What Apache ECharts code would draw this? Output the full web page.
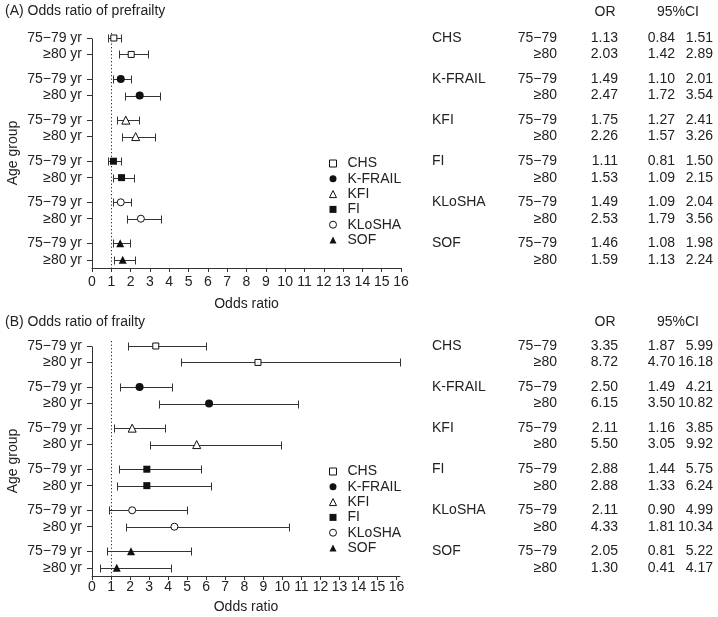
<!DOCTYPE html>
<html>
<head>
<meta charset="utf-8">
<script src="https://cdn.jsdelivr.net/npm/echarts@6/dist/echarts.min.js"></script>
<style>
html,body{margin:0;padding:0;background:#fff;}
#chart{width:718px;height:617px;}
</style>
</head>
<body>
<div id="chart"></div>
<script>
// ---------- data ----------
const indices = ['CHS', 'K-FRAIL', 'KFI', 'FI', 'KLoSHA', 'SOF'];
const ageAxisLabels = ['75\u221279 yr', '\u226580 yr'];
const ageTableLabels = ['75\u221279', '\u226580'];
const xTicks = [0,1,2,3,4,5,6,7,8,9,10,11,12,13,14,15,16];
const refOR = 1;

// (A) prefrailty: [75-79, >=80] for each index
const preOR = [[1.13, 2.03], [1.49, 2.47], [1.75, 2.26], [1.11, 1.53], [1.49, 2.53], [1.46, 1.59]];
const preLo = [[0.84, 1.42], [1.10, 1.72], [1.27, 1.57], [0.81, 1.09], [1.09, 1.79], [1.08, 1.13]];
const preHi = [[1.51, 2.89], [2.01, 3.54], [2.41, 3.26], [1.50, 2.15], [2.04, 3.56], [1.98, 2.24]];

// (B) frailty
const frOR = [[3.35, 8.72], [2.50, 6.15], [2.11, 5.50], [2.88, 2.88], [2.11, 4.33], [2.05, 1.30]];
const frLo = [[1.87, 4.70], [1.49, 3.50], [1.16, 3.05], [1.44, 1.33], [0.90, 1.81], [0.81, 0.41]];
const frHi = [[5.99, 16.18], [4.21, 10.82], [3.85, 9.92], [5.75, 6.24], [4.99, 10.34], [5.22, 4.17]];

// ---------- styles ----------
const symbols = ['rect', 'circle', 'triangle', 'rect', 'circle', 'triangle'];
const hollow = [true, false, true, false, true, false];
const symbolSizes = [6, 8, 8, 7, 7, 8];
const FONT = 'Liberation Sans, Arial, Helvetica, sans-serif';
const TXT = '#222';
const MARK = '#111';

function rowPos(g, a) { return g * 2.5 + a; }
const rowPositions = [];
for (let g = 0; g < indices.length; g++) for (let a = 0; a < 2; a++) rowPositions.push(rowPos(g, a));
function labelForPos(v) {
  for (let g = 0; g < indices.length; g++) for (let a = 0; a < 2; a++)
    if (Math.abs(rowPos(g, a) - v) < 1e-6) return ageAxisLabels[a];
  return '';
}

const panels = [
  { OR: preOR, LO: preLo, HI: preHi, top: 38, xMax: 16, width: 309, labelMargin: 7, nameGap: 29 },
  { OR: frOR, LO: frLo, HI: frHi, top: 346, xMax: 16.18, width: 308, labelMargin: 4, nameGap: 24 }
];
const GRID_H = 230;
const Y_MAX = 14;

const grid = [], xAxis = [], yAxis = [], series = [], legend = [];

panels.forEach((p, pi) => {
  const gi = grid.length;
  grid.push({ left: 92, top: p.top, width: p.width, height: GRID_H });
  xAxis.push({
    type: 'value', gridIndex: gi, min: 0, max: p.xMax, position: 'bottom',
    axisLine: { show: true, onZero: false, lineStyle: { color: '#333', width: 1 } },
    axisTick: { show: true, length: 4, lineStyle: { color: '#333' }, customValues: xTicks },
    axisLabel: { fontSize: 14, color: TXT, fontFamily: FONT, margin: p.labelMargin, customValues: xTicks },
    splitLine: { show: false },
    name: 'Odds ratio', nameLocation: 'middle', nameGap: p.nameGap,
    nameTextStyle: { fontSize: 14, color: TXT, fontFamily: FONT }
  });
  yAxis.push({
    type: 'value', gridIndex: gi, min: 0, max: Y_MAX, inverse: true, position: 'left',
    axisLine: { show: false, onZero: false },
    axisTick: { show: true, length: 5, lineStyle: { color: '#333' }, customValues: rowPositions },
    axisLabel: { fontSize: 14, color: TXT, fontFamily: FONT, margin: 10, customValues: rowPositions,
      formatter: v => labelForPos(v) },
    splitLine: { show: false },
    name: 'Age group', nameLocation: 'middle', nameGap: 72,
    nameTextStyle: { fontSize: 14, color: TXT, fontFamily: FONT }
  });

  // reference line at OR = 1 (dotted) and y-axis line
  series.push({
    type: 'custom', xAxisIndex: gi, yAxisIndex: gi, z: 1, silent: true, clip: false,
    data: [[refOR, -0.3, Y_MAX]],
    encode: { x: 0, y: [1, 2] },
    renderItem: (params, api) => {
      const a = api.coord([api.value(0), api.value(1)]);
      const b = api.coord([api.value(0), api.value(2)]);
      const x = Math.round(a[0]) + 0.5;
      return { type: 'line', shape: { x1: x, y1: a[1], x2: x, y2: b[1] },
        style: { stroke: '#222', lineWidth: 1, lineDash: [1.2, 2.3] } };
    }
  });
  series.push({
    type: 'custom', xAxisIndex: gi, yAxisIndex: gi, z: 2, silent: true, clip: false,
    data: [[0, 0, Y_MAX]],
    encode: { x: 0, y: [1, 2] },
    renderItem: (params, api) => {
      const a = api.coord([0, api.value(1)]);
      const b = api.coord([0, api.value(2)]);
      const x = Math.round(a[0]) + 0.5;
      return { type: 'line', shape: { x1: x, y1: Math.round(a[1]) + 0.5, x2: x, y2: b[1] }, style: { stroke: '#333', lineWidth: 1 } };
    }
  });

  // error bars
  const ebData = [];
  for (let g = 0; g < indices.length; g++) for (let a = 0; a < 2; a++)
    ebData.push([p.LO[g][a], p.HI[g][a], rowPos(g, a)]);
  series.push({
    type: 'custom', xAxisIndex: gi, yAxisIndex: gi, z: 2, silent: true, clip: false,
    encode: { x: [0, 1], y: 2 },
    data: ebData,
    renderItem: (params, api) => {
      const a = api.coord([api.value(0), api.value(2)]);
      const b = api.coord([api.value(1), api.value(2)]);
      const y = Math.round(a[1]) + 0.5;
      const x1 = Math.round(a[0]) + 0.5, x2 = Math.round(b[0]) + 0.5;
      const st = { stroke: '#333', lineWidth: 1 };
      return { type: 'group', children: [
        { type: 'line', shape: { x1: x1, y1: y, x2: x2, y2: y }, style: st },
        { type: 'line', shape: { x1: x1, y1: y - 4, x2: x1, y2: y + 4 }, style: st },
        { type: 'line', shape: { x1: x2, y1: y - 4, x2: x2, y2: y + 4 }, style: st }
      ]};
    }
  });

  // points
  indices.forEach((name, g) => {
    series.push({
      type: 'scatter', name: name, xAxisIndex: gi, yAxisIndex: gi, z: 3,
      symbol: symbols[g], symbolSize: symbolSizes[g],
      itemStyle: hollow[g]
        ? { color: '#fff', borderColor: MARK, borderWidth: 1, opacity: 1 }
        : { color: MARK, borderWidth: 0, opacity: 1 },
      emphasis: { disabled: true },
      data: [[p.OR[g][0], rowPos(g, 0)], [p.OR[g][1], rowPos(g, 1)]]
    });
  });

  // table grid
  const ti = grid.length;
  grid.push({ left: 420, top: p.top, width: 298, height: GRID_H });
  xAxis.push({ type: 'value', gridIndex: ti, min: 0, max: 1, show: false });
  yAxis.push({ type: 'value', gridIndex: ti, min: 0, max: Y_MAX, inverse: true, show: false });
  const tData = [];
  for (let g = 0; g < indices.length; g++) for (let a = 0; a < 2; a++) tData.push([0, rowPos(g, a)]);
  series.push({
    type: 'custom', xAxisIndex: ti, yAxisIndex: ti, silent: true,
    data: tData,
    renderItem: (params, api) => {
      const i = params.dataIndex, g = Math.floor(i / 2), a = i % 2;
      const y = api.coord([0, api.value(1)])[1];
      const mk = (x, t, al) => ({ type: 'text', x: x, y: y,
        style: { text: t, align: al, verticalAlign: 'middle', fontSize: 14, fontFamily: FONT, fill: TXT } });
      const ch = [];
      if (a === 0) ch.push(mk(432, indices[g], 'left'));
      ch.push(mk(557, ageTableLabels[a], 'right'));
      ch.push(mk(618, p.OR[g][a].toFixed(2), 'right'));
      ch.push(mk(675, p.LO[g][a].toFixed(2), 'right'));
      ch.push(mk(713, p.HI[g][a].toFixed(2), 'right'));
      return { type: 'group', children: ch };
    }
  });

  legend.push({
    orient: 'vertical', left: 324, top: p.top + 113, itemWidth: 7, itemHeight: 7, itemGap: 0.3,
    selectedMode: false,
    itemStyle: { borderWidth: 1 },
    textStyle: { fontSize: 14, color: TXT, fontFamily: FONT, lineHeight: 15, padding: [0, 0, 0, 6] },
    data: indices
  });
});

const titleText = (txt, top) => ({ type: 'text', left: 5, top: top,
  style: { text: txt, fontSize: 14, fontFamily: FONT, fill: TXT } });
const hdr = (txt, x, y) => ({ type: 'text', x: x, y: y,
  style: { text: txt, fontSize: 14, fontFamily: FONT, fill: TXT, align: 'center', verticalAlign: 'middle' } });

const chart = echarts.init(document.getElementById('chart'), null, { renderer: 'canvas' });
chart.setOption({
  animation: false,
  backgroundColor: '#fff',
  textStyle: { fontFamily: FONT },
  grid: grid, xAxis: xAxis, yAxis: yAxis, series: series, legend: legend,
  graphic: [
    titleText('(A) Odds ratio of prefrailty', 4),
    titleText('(B) Odds ratio of frailty', 315),
    hdr('OR', 605, 12.5), hdr('95%CI', 678, 12.5),
    hdr('OR', 605, 322), hdr('95%CI', 678, 322)
  ]
});
</script>
</body>
</html>
